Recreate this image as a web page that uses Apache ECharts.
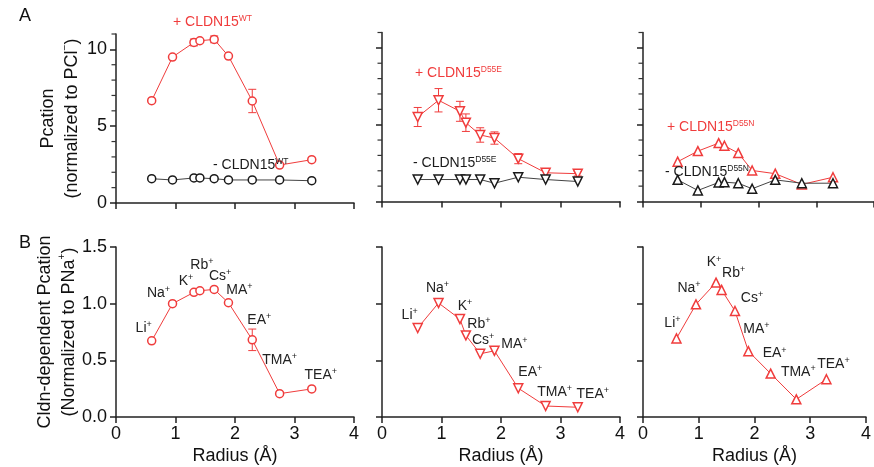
<!DOCTYPE html>
<html>
<head>
<meta charset="utf-8">
<script src="https://cdn.jsdelivr.net/npm/echarts@6/dist/echarts.min.js"></script>
<style>
  html, body { margin: 0; padding: 0; background: #fff; }
  #chart { width: 874px; height: 467px; }
</style>
</head>
<body>
<div id="chart"></div>
<script>
// ---- data ----
const radius = [0.60, 0.95, 1.31, 1.41, 1.65, 1.89, 2.29, 2.75, 3.29]
const ions = ['Li', 'Na', 'K', 'Rb', 'Cs', 'MA', 'EA', 'TMA', 'TEA']

// panel A: Pcation normalized to PCl-
const wtPlus = [6.66, 9.50, 10.45, 10.56, 10.65, 9.56, 6.64, 2.47, 2.82]
const wtPlusErr = [0, 0, 0.22, 0, 0.22, 0, 0.76, 0, 0]
const wtMinus = [1.58, 1.50, 1.63, 1.63, 1.58, 1.50, 1.50, 1.50, 1.45]
const d55ePlus = [5.50, 6.59, 5.87, 5.13, 4.33, 4.13, 2.79, 1.87, 1.81]
const d55ePlusErr = [0.62, 0.76, 0.65, 0.57, 0.47, 0.40, 0.33, 0.20, 0.15]
const d55eMinus = [1.43, 1.43, 1.43, 1.43, 1.43, 1.19, 1.58, 1.43, 1.30]
const d55nPlus = [2.59, 3.28, 3.80, 3.63, 3.15, 2.02, 1.81, 1.11, 1.58]
const d55nMinus = [1.41, 0.72, 1.24, 1.26, 1.19, 0.83, 1.41, 1.19, 1.19]

// panel B: Cldn-dependent Pcation normalized to PNa+
const relWT = [0.672, 1.0, 1.10, 1.114, 1.126, 1.008, 0.681, 0.206, 0.248]
const relWTErr = [0, 0, 0, 0, 0, 0, 0.095, 0, 0]
const relD55E = [0.785, 1.006, 0.864, 0.720, 0.558, 0.584, 0.254, 0.097, 0.086]
const relD55N = [0.693, 0.994, 1.186, 1.121, 0.935, 0.581, 0.383, 0.156, 0.333]

const yTicksA = [0, 5, 10]
const yMinorTicksA = [1, 2, 3, 4, 6, 7, 8, 9, 11]

// ---- style ----
const FONT = 'Liberation Sans, Arial, sans-serif'
const RED = '#f03c3c'
const BLK = '#1a1a1a'
const AXIS = '#222'

// ion label offsets (px, relative to the point) per bottom panel
const ionOffsetsB1 = [[-8,-13],[-14,-11],[-8,-11],[2,-26],[6,-13],[11,-13],[7,-20],[0,-34],[9,-14]]
const ionOffsetsB2 = [[-8,-13],[-1,-15],[5,-13],[13,-11],[3,-14],[20,-7],[12,-16],[9,-14],[15,-13]]
const ionOffsetsB3 = [[-4,-15],[-7,-16],[-2,-20],[12,-17],[17,-13],[8,-22],[4,-20],[2,-27],[7,-15]]

const gridsTop = [
  { left: 116, top: 34, width: 238, height: 169 },
  { left: 382, top: 32.5, width: 238, height: 169 },
  { left: 643, top: 32.5, width: 238, height: 169 }
]
const gridsBot = [
  { left: 116, top: 247, width: 238, height: 170 },
  { left: 382, top: 247, width: 238, height: 170 },
  { left: 643, top: 247, width: 238, height: 170 }
]

const chart = echarts.init(document.getElementById('chart'), null, { renderer: 'canvas' })

const grid = gridsTop.concat(gridsBot)

function xAxisFor(gi, showLabels, name) {
  return {
    type: 'value', gridIndex: gi, min: 0, max: 4, interval: 1,
    axisLine: { show: true, onZero: false, lineStyle: { color: AXIS, width: 1.5 } },
    axisTick: { show: true, inside: false, length: 6, lineStyle: { color: AXIS, width: 1.5 } },
    axisLabel: { show: showLabels, color: '#111', fontSize: 18, fontFamily: FONT, margin: 8 },
    splitLine: { show: false },
    name: name || '', nameLocation: 'middle', nameGap: 30,
    nameTextStyle: { color: '#111', fontSize: 18, fontFamily: FONT }
  }
}

const xAxis = [0, 1, 2].map(i => xAxisFor(i, false))
  .concat([3, 4, 5].map(i => xAxisFor(i, true, 'Radius (Å)')))

const nameRich = {
  t: { fontSize: 18, fontFamily: FONT, color: '#111', lineHeight: 24 },
  s: { fontSize: 10, fontFamily: FONT, color: '#111', verticalAlign: 'top', lineHeight: 24 }
}

const yAxis = []
// top panels
for (let i = 0; i < 3; i++) {
  yAxis.push({
    type: 'value', gridIndex: i, position: 'left', min: 0, max: 11, interval: 5,
    axisLine: { show: true, lineStyle: { color: AXIS, width: 1.5 } },
    axisTick: { show: true, length: 6, customValues: yTicksA, lineStyle: { color: AXIS, width: 1.5 } },
    axisLabel: { show: i === 0, customValues: yTicksA, color: '#111', fontSize: 18, fontFamily: FONT, margin: 9 },
    splitLine: { show: false },
    name: i === 0 ? '{t|Pcation}\n{t|(normalized to PCl}{s|−}{t|)}' : '',
    nameLocation: 'middle', nameGap: 32, nameRotate: 90,
    nameTextStyle: { rich: nameRich }
  })
}
// bottom panels
for (let i = 0; i < 3; i++) {
  yAxis.push({
    type: 'value', gridIndex: 3 + i, position: 'left', min: 0, max: 1.5, interval: 0.5,
    axisLine: { show: true, lineStyle: { color: AXIS, width: 1.5 } },
    axisTick: { show: true, length: 6, lineStyle: { color: AXIS, width: 1.5 } },
    axisLabel: { show: i === 0, color: '#111', fontSize: 18, fontFamily: FONT, margin: 9,
      formatter: v => v.toFixed(1) },
    splitLine: { show: false },
    name: i === 0 ? '{t|Cldn-dependent Pcation}\n{t|(Normalized to PNa}{s|+}{t|)}' : '',
    nameLocation: 'middle', nameGap: 32, nameRotate: 90,
    nameTextStyle: { rich: nameRich }
  })
}

function pts(ys) { return radius.map((x, i) => [x, ys[i]]) }

function lineSeries(gi, yi, ys, color, symbol, rotate, extra) {
  return Object.assign({
    type: 'line', xAxisIndex: gi, yAxisIndex: yi, data: pts(ys),
    symbol: symbol, symbolSize: symbol === 'circle' ? 8 : 9, symbolRotate: rotate || 0,
    showAllSymbol: true, z: 3,
    lineStyle: { color: color, width: 1 },
    itemStyle: { color: '#fff', borderColor: color, borderWidth: 1.5 },
    emphasis: { disabled: true }, animation: false
  }, extra || {})
}

function errSeries(gi, yi, ys, errs, color) {
  return {
    type: 'custom', xAxisIndex: gi, yAxisIndex: yi, z: 2, animation: false, clip: false,
    data: radius.map((x, i) => [x, ys[i], errs[i]]),
    renderItem: (params, api) => {
      const e = api.value(2)
      if (!e) return null
      const x = api.value(0), y = api.value(1)
      const hi = api.coord([x, y + e]), lo = api.coord([x, y - e])
      const w = 4
      const st = { stroke: color, lineWidth: 1 }
      return {
        type: 'group', children: [
          { type: 'line', shape: { x1: hi[0], y1: hi[1], x2: lo[0], y2: lo[1] }, style: st },
          { type: 'line', shape: { x1: hi[0] - w, y1: hi[1], x2: hi[0] + w, y2: hi[1] }, style: st },
          { type: 'line', shape: { x1: lo[0] - w, y1: lo[1], x2: lo[0] + w, y2: lo[1] }, style: st }
        ]
      }
    }
  }
}

// minor y ticks of the top panels, placed through the axis scale
function minorTickSeries(gi) {
  return {
    type: 'custom', xAxisIndex: gi, yAxisIndex: gi, z: 5, animation: false, silent: true, clip: false,
    data: yMinorTicksA.map(v => [0.5, v]),
    renderItem: (params, api) => {
      const p = api.coord([0, api.value(1)])
      return { type: 'line', shape: { x1: p[0] - 4.5, y1: p[1], x2: p[0], y2: p[1] },
        style: { stroke: '#333', lineWidth: 1.2 } }
    }
  }
}

const ionRich = {
  n: { fontSize: 14, fontFamily: FONT, color: '#222', lineHeight: 16 },
  s: { fontSize: 9, fontFamily: FONT, color: '#222', verticalAlign: 'top', lineHeight: 16 }
}

function ionSeries(gi, yi, ys, offsets, symbol, rotate) {
  const s = lineSeries(gi, yi, ys, RED, symbol, rotate)
  s.data = radius.map((x, i) => ({ value: [x, ys[i]], label: { offset: offsets[i] } }))
  s.label = {
    show: true, position: 'inside',
    formatter: p => '{n|' + ions[p.dataIndex] + '}{s|+}',
    rich: ionRich
  }
  return s
}

const series = [
  minorTickSeries(0), minorTickSeries(1), minorTickSeries(2),
  errSeries(0, 0, wtPlus, wtPlusErr, RED),
  lineSeries(0, 0, wtPlus, RED, 'circle'),
  lineSeries(0, 0, wtMinus, BLK, 'circle', 0, { lineStyle: { color: '#444', width: 1 } }),
  errSeries(1, 1, d55ePlus, d55ePlusErr, RED),
  lineSeries(1, 1, d55ePlus, RED, 'triangle', 180),
  lineSeries(1, 1, d55eMinus, BLK, 'triangle', 180, { lineStyle: { color: '#444', width: 1 } }),
  lineSeries(2, 2, d55nPlus, RED, 'triangle'),
  lineSeries(2, 2, d55nMinus, BLK, 'triangle', 0, { lineStyle: { color: '#444', width: 1 } }),
  errSeries(3, 3, relWT, relWTErr, RED),
  ionSeries(3, 3, relWT, ionOffsetsB1, 'circle'),
  ionSeries(4, 4, relD55E, ionOffsetsB2, 'triangle', 180),
  ionSeries(5, 5, relD55N, ionOffsetsB3, 'triangle')
]

// annotation texts
function tag(x, y, sign, sup, color) {
  return {
    type: 'text', x: x, y: y, z: 10,
    style: {
      text: '{a|' + sign + ' CLDN15}{b|' + sup + '}',
      verticalAlign: 'middle', align: 'left',
      rich: {
        a: { fontSize: 14, fontFamily: FONT, fill: color, lineHeight: 16 },
        b: { fontSize: 8.5, fontFamily: FONT, fill: color, verticalAlign: 'top', lineHeight: 16 }
      }
    }
  }
}

const graphic = [
  { type: 'text', x: 19, y: 7, style: { text: 'A', fontSize: 18, fontFamily: FONT, fill: '#111' } },
  { type: 'text', x: 19, y: 234, style: { text: 'B', fontSize: 18, fontFamily: FONT, fill: '#111' } },
  tag(173, 22, '+', 'WT', RED),
  tag(213, 165, '-', 'WT', BLK),
  tag(415, 73, '+', 'D55E', RED),
  tag(413, 163, '-', 'D55E', BLK),
  tag(667, 127, '+', 'D55N', RED),
  tag(665, 172, '-', 'D55N', BLK)
]

chart.setOption({
  backgroundColor: '#fff',
  animation: false,
  grid: grid,
  xAxis: xAxis,
  yAxis: yAxis,
  series: series,
  graphic: graphic
})
</script>
</body>
</html>
